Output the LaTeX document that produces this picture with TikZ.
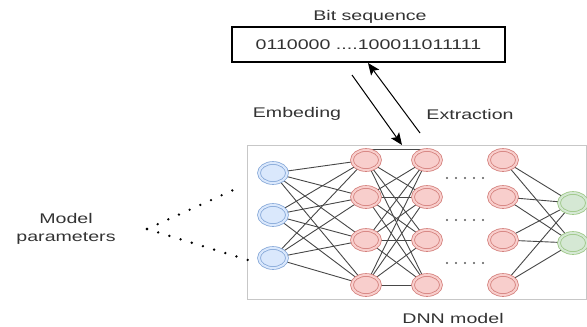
\documentclass[tikz,border=0pt]{standalone}
\usepackage{fontspec}
\usepackage{graphicx}
\setmainfont{Liberation Sans}
\usetikzlibrary{shapes.geometric,arrows.meta,backgrounds}
\newcommand\wide[1]{\scalebox{1.4}[1]{#1}}
\definecolor{txtgray}{HTML}{333333}
\definecolor{blueF}{HTML}{DAE8FC}\definecolor{blueD}{HTML}{86A8D8}
\definecolor{redF}{HTML}{F8CECC}\definecolor{redD}{HTML}{D4807C}
\definecolor{greenF}{HTML}{D5E8D4}\definecolor{greenD}{HTML}{9CC785}
\tikzset{
  lbl/.style={text=txtgray,font=\fontsize{14}{17}\selectfont,inner sep=0pt},
  neuron/.style={ellipse,inner sep=0pt,minimum width=28pt,minimum height=20pt,
    line width=0.8pt,double distance=2pt},
  inp/.style={neuron,draw=blueD,fill=blueF,double=blueF},
  hid/.style={neuron,draw=redD,fill=redF,double=redF},
  outp/.style={neuron,draw=greenD,fill=greenF,double=greenF},
  syn/.style={draw=black!72,line width=0.9pt},
  gap/.style={draw=black!65,line width=2.2pt,line cap=round,dash pattern=on 0pt off 9pt},
  param/.style={draw=black,line width=2.6pt,line cap=round,dash pattern=on 0pt off 11.7pt},
  flow/.style={draw=black,line width=1pt,-{Stealth[length=12pt,width=10pt,inset=2.5pt]}}
}
\begin{document}
\begin{tikzpicture}[x=1pt,y=-1pt]
\useasboundingbox (0,0) rectangle (587,327);

% bit string
\node[lbl] (bstitle) at (370,17) {\wide{Bit sequence}};
\node[draw=black,line width=1.2pt,minimum width=273pt,minimum height=35pt,
      text=txtgray,font=\fontsize{14}{17}\selectfont,inner sep=0pt]
      (bits) at (368.5,44.5) {\wide{0110000 ....100011011111}};

% network frame
\node[draw=black!22,line width=0.8pt,minimum width=339pt,minimum height=154pt,inner sep=0pt]
      (frame) at (416.5,222) {};
\node[lbl] (dnn) at (453,318) {\wide{DNN model}};

% embedding / extraction arrows
\coordinate (embS) at (352,75);
\coordinate (embE) at (402,145);
\coordinate (extS) at (420,133);
\coordinate (extE) at (368,63);
\draw[flow] (embS) -- (embE);
\draw[flow] (extS) -- (extE);
\node[lbl] (emb) at (297,114) {\wide{Embeding}};
\node[lbl] (ext) at (470,114) {\wide{Extraction}};

% neurons
\node[inp] (i1) at (273,173) {};
\node[inp] (i2) at (273,215) {};
\node[inp] (i3) at (273,258) {};
\foreach \n/\y in {1/160,2/197,3/240,4/285}{
  \node[hid] (a\n) at (366,\y) {};
  \node[hid] (b\n) at (427,\y) {};
  \node[hid] (c\n) at (503,\y) {};
}
\node[outp] (o1) at (573,203) {};
\node[outp] (o2) at (573,243) {};

% synapses
\begin{scope}[on background layer]
  \foreach \i in {1,2,3}{\foreach \j in {1,2,3,4}{\draw[syn] (i\i) -- (a\j);}}
  \foreach \i in {1,2,3,4}{\foreach \j in {1,2,3,4}{
     \ifnum\i=\j\ifnum\i=1\else\draw[syn] (a\i) -- (b\j);\fi\else\draw[syn] (a\i) -- (b\j);\fi}}
  \draw[syn] (a1.north) -- (b1.north);
  \foreach \i in {1,2,3,4}{\foreach \j in {1,2}{\draw[syn] (c\i) -- (o\j);}}
\end{scope}

% elided layers
\coordinate (g1s) at (447,178); \coordinate (g1e) at (483,178);
\coordinate (g2s) at (447,220); \coordinate (g2e) at (483,220);
\coordinate (g3s) at (447,263); \coordinate (g3e) at (483,263);
\draw[gap] (g1s) -- (g1e);
\draw[gap] (g2s) -- (g2e);
\draw[gap] (g3s) -- (g3e);

% model parameters
\node[lbl,align=center] (mp) at (66,229) {\wide{Model}\\[1pt]\wide{parameters}};
\coordinate (pS) at (147,229);
\coordinate (pU) at (240,187);
\coordinate (pL) at (248,260);
\draw[param] (pS) -- (pU);
\draw[param] (pS) -- (pL);
\end{tikzpicture}
\end{document}
